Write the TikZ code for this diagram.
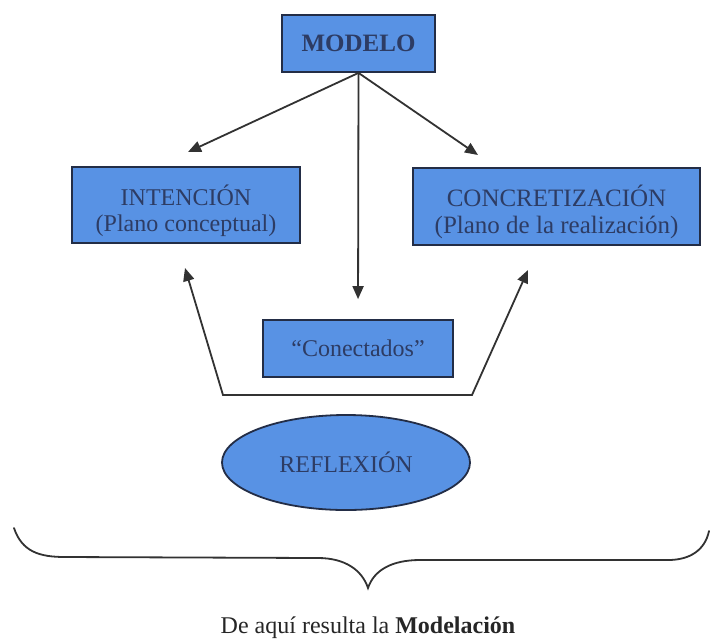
\documentclass[tikz,border=0pt]{standalone}
\usepackage{fontspec}
\setmainfont{Liberation Serif}
\usetikzlibrary{arrows.meta,shapes.geometric}
\definecolor{boxfill}{RGB}{88,146,228}
\definecolor{boxline}{RGB}{35,45,70}
\definecolor{boxtext}{RGB}{45,60,100}
\definecolor{linecol}{RGB}{50,50,50}
\newcommand{\lowstrut}{\rule{0pt}{32pt}}
\begin{document}
\begin{tikzpicture}[x=1pt,y=-1pt,
  bluebox/.style={draw=boxline,line width=1.8pt,fill=boxfill,inner sep=0pt,align=center,
     text=boxtext,font=\fontsize{24}{26}\selectfont},
  blueell/.style={bluebox,ellipse},
  arr/.style={draw=linecol,line width=1.8pt,-{Triangle[length=13pt,width=11pt]}},
  darr/.style={draw=linecol,line width=1.8pt,{Triangle[length=13pt,width=11pt]}-{Triangle[length=13pt,width=11pt]}}]
\path[use as bounding box,fill=white] (0,0) rectangle (711,641);
\node[bluebox,minimum width=153pt,minimum height=57pt,font=\fontsize{25}{27}\selectfont\bfseries] (modelo) at (358.5,43.5) {MODELO};
\node[bluebox,minimum width=228pt,minimum height=76pt] (int) at (186,205) {\lowstrut INTENCIÓN\\(Plano conceptual)};
\node[bluebox,minimum width=287pt,minimum height=77pt,font=\fontsize{25}{27}\selectfont] (conc) at (556.5,206.5) {\lowstrut CONCRETIZACIÓN\\(Plano de la realización)};
\node[bluebox,minimum width=190pt,minimum height=57pt] (con) at (358,348.5) {“Conectados”};
\node[blueell,minimum width=248pt,minimum height=95pt] (refl) at (346,462.5) {REFLEXIÓN};
\node[font=\fontsize{24}{26}\selectfont,text=black!85] (res) at (368,628) {De aquí resulta la \textbf{Modelación}};
\coordinate (tipL) at (188,152);
\coordinate (tipR) at (478,155);
\coordinate (upL) at (185,268);
\coordinate (upR) at (528,270);
\coordinate (fbL) at (223,395);
\coordinate (fbR) at (472,395);
\draw[arr] (modelo.south) -- (tipL);
\draw[arr] (modelo.south) -- (tipR);
\draw[arr,shorten >=20pt] (modelo.south) -- (con.north);
\draw[darr,line join=miter] (upL) -- (fbL) -- (fbR) -- (upR);
\draw[linecol,line width=1.8pt,line cap=round] (14,528) .. controls (22,552) and (40,557) .. (65,557) -- (318,558) .. controls (345,558) and (362,570) .. (368,588) .. controls (374,570) and (392,560) .. (420,560) -- (668,560) .. controls (690,560) and (705,550) .. (709,531);
\end{tikzpicture}
\end{document}
